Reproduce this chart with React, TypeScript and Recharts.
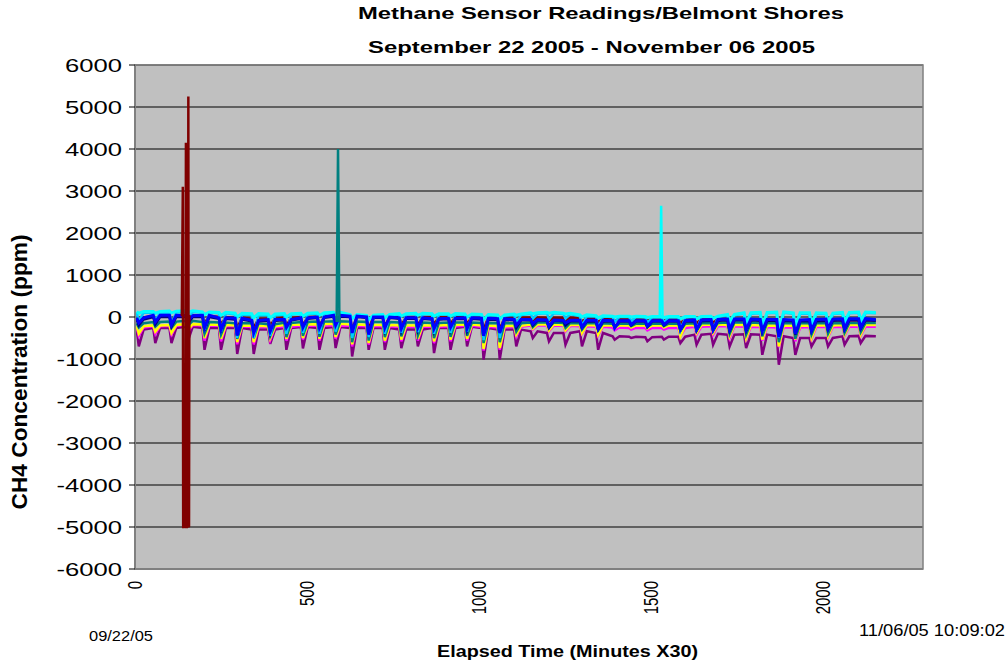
import React from "react";
import {
  LineChart,
  Line,
  XAxis,
  YAxis,
  CartesianGrid,
  ReferenceArea,
} from "recharts";

// elapsed time (x30 min) of each daily dip
const DIP_TIMES = [
  11, 59, 106, 154, 202, 250, 297, 345, 393, 440, 488, 536, 583, 631, 679,
  726, 774, 822, 869, 917, 965, 1013, 1060, 1108, 1156, 1203, 1251, 1299,
  1346, 1394, 1442, 1489, 1537, 1585, 1632, 1680, 1728, 1776, 1823, 1871,
  1919, 1966, 2014, 2062, 2109,
];
const END_TIME = 2153;

// level before each dip / bottom of each dip, ppm
const PURPLE_BASE = [
  -300, -260, -260, -230, -260, -260, -260, -300, -300, -260, -240, -260, -240, -260, -260,
  -260, -300, -300, -260, -260, -230, -260, -300, -300, -340, -380, -380, -340, -380, -460,
  -470, -480, -470, -470, -420, -400, -420, -410, -420, -460, -500, -500, -500, -460, -450,
];
const PURPLE_DIP = [
  -700, -620, -620, -560, -780, -780, -880, -880, -640, -780, -750, -780, -740, -940, -780,
  -780, -740, -700, -860, -780, -700, -1015, -1015, -700, -500, -580, -660, -700, -780, -540,
  -500, -580, -540, -620, -660, -660, -700, -740, -900, -1135, -900, -700, -700, -660, -620,
];
const BLUE_BASE = [
  -20, 40, 40, 30, 40, -20, -30, -80, -60, -60, -20, 0, 40, 20, 0,
  0, -20, -20, -40, -30, -20, -30, -40, -60, -60, -70, -80, -80, -80, -90,
  -90, -90, -90, -90, -70, -60, -50, -50, -60, -60, -70, -60, -50, -40, -40,
];
const BLUE_DIP = [
  -140, -120, -180, -80, -260, -300, -440, -380, -340, -250, -250, -260, -200, -380, -420,
  -260, -280, -260, -280, -250, -280, -450, -380, -200, -160, -220, -140, -240, -280, -260,
  -180, -220, -180, -300, -300, -300, -300, -300, -330, -480, -400, -320, -280, -280, -250,
];
const NAVY_BASE = [
  -60, 0, 0, 0, 0, -40, -60, -100, -90, -80, -40, -20, 10, 0, -20,
  -20, -40, -40, -60, -50, -40, -60, -70, -80, -80, -90, -100, -100, -110, -110,
  -110, -110, -110, -110, -100, -90, -80, -80, -90, -90, -100, -100, -90, -80, -80,
];
const NAVY_DIP = [
  -200, -180, -230, -150, -320, -360, -480, -420, -400, -320, -300, -320, -260, -450, -480,
  -330, -340, -320, -350, -320, -330, -520, -460, -260, -200, -260, -200, -260, -300, -250,
  -200, -240, -200, -320, -320, -320, -330, -330, -360, -500, -420, -340, -300, -300, -280,
];
const MAROON_BASE = [
  -10, 20, 20, 40, 20, 0, -20, -40, -40, -20, 0, 10, 20, 10, 0,
  0, 0, 0, 0, 0, 10, 0, -10, -20, -10, -20, -20, -30, -40, -50,
  -50, -50, -50, -50, -40, -30, -60, -60, -70, -70, -80, -80, -80, -80, -80,
];
const MAROON_DIP = [
  -80, -60, -80, -40, -150, -180, -260, -260, -200, -200, -200, -220, -180, -300, -280,
  -220, -200, -200, -180, -160, -180, -300, -300, -140, -80, -100, -80, -100, -120, -100,
  -80, -90, -80, -150, -150, -150, -280, -280, -320, -420, -340, -260, -240, -240, -220,
];
const TEAL_BASE = [
  -150, -120, -110, -90, -120, -130, -150, -150, -170, -140, -120, -110, -100, -110, -120,
  -120, -130, -130, -140, -130, -130, -140, -150, -150, -130, -130, -140, -150, -150, -160,
  -160, -160, -160, -160, -150, -140, -130, -130, -140, -150, -150, -150, -150, -140, -140,
];
const TEAL_DIP = [
  -250, -230, -260, -200, -400, -420, -520, -500, -450, -480, -450, -470, -420, -600, -560,
  -480, -460, -440, -500, -470, -450, -620, -600, -350, -240, -260, -260, -300, -320, -240,
  -220, -240, -220, -330, -330, -330, -400, -420, -460, -600, -520, -420, -400, -380, -360,
];
const YELLOW_BASE = [
  -220, -200, -190, -170, -180, -190, -200, -210, -220, -190, -180, -170, -160, -180, -190,
  -190, -200, -200, -200, -190, -180, -200, -220, -210, -180, -180, -190, -190, -200, -200,
  -200, -200, -200, -200, -190, -180, -190, -190, -200, -210, -210, -200, -200, -190, -190,
];
const YELLOW_DIP = [
  -400, -350, -380, -300, -500, -520, -600, -600, -500, -520, -500, -520, -480, -650, -620,
  -560, -540, -520, -580, -540, -520, -760, -740, -420, -280, -320, -320, -380, -420, -260,
  -250, -270, -250, -460, -380, -380, -460, -500, -540, -700, -540, -500, -460, -420, -420,
];
const MAGENTA_BASE = [
  -250, -220, -210, -190, -200, -210, -220, -240, -240, -230, -210, -200, -200, -210, -220,
  -220, -230, -230, -230, -220, -210, -230, -250, -230, -200, -200, -210, -220, -230, -250,
  -260, -260, -260, -260, -230, -220, -220, -230, -240, -250, -250, -240, -240, -230, -230,
];
const MAGENTA_DIP = [
  -450, -400, -420, -350, -560, -580, -650, -650, -550, -560, -540, -560, -520, -700, -660,
  -600, -580, -560, -620, -580, -560, -800, -780, -460, -300, -340, -340, -400, -440, -320,
  -300, -320, -300, -460, -420, -420, -500, -520, -560, -720, -580, -520, -480, -440, -440,
];
const CYAN_BASE = [
  130, 130, 140, 150, 120, 110, 90, 80, 70, 80, 90, 100, 110, 60, 40,
  60, 80, 90, 80, 80, 70, 60, 50, 70, 100, 110, 90, 50, 30, 20,
  20, 10, 10, 10, 10, 20, 60, 100, 110, 120, 100, 100, 90, 110, 120,
];
const CYAN_DIP = [
  90, 90, 100, 110, 60, 40, 0, -20, -20, 0, 20, 40, 60, -40, -60,
  -20, 20, 40, 20, 20, 0, -60, -40, 40, 80, 90, 70, 0, -20, 0,
  0, -10, -10, -40, -40, -30, -100, -140, -200, -320, -220, -160, -120, -100, -80,
];
const SKY_BASE = [
  100, 100, 110, 120, 100, 90, 60, 50, 40, 60, 70, 80, 90, 40, 20,
  40, 60, 70, 60, 60, 50, 40, 30, 50, 80, 90, 70, 20, 10, 0,
  0, -10, -10, -10, 0, 0, 40, 80, 90, 100, 80, 80, 70, 90, 100,
];
const SKY_DIP = [
  -100, -80, -150, -60, -300, -350, -500, -500, -450, -400, -380, -400, -350, -500, -480,
  -400, -380, -360, -400, -380, -350, -550, -500, -150, -40, -60, -40, -220, -260, -120,
  -100, -140, -120, -320, -320, -300, -280, -300, -360, -500, -400, -320, -280, -260, -240,
];

// single large excursions
const MAROON_SPIKE_T = [136, 139, 140, 143, 146, 148, 149, 152, 154, 155, 156, 157, 158];
const MAROON_SPIKE_V = [20, 3100, -5000, -5000, -4980, 4150, -5000, -5000, -4980, 5250, -5000, -4980, 50];
const TEAL_SPIKE_T = [586, 590, 594];
const TEAL_SPIKE_V = [-120, 4000, -120];
const CYAN_SPIKE_T = [1525, 1529, 1533];
const CYAN_SPIKE_V = [20, 2650, 20];

const X_TICKS = [0, 500, 1000, 1500, 2000];
const Y_TICKS = [-6000, -5000, -4000, -3000, -2000, -1000, 0, 1000, 2000, 3000, 4000, 5000, 6000];

const SERIES = [
  { key: "purple", color: "#800080", base: PURPLE_BASE, dip: PURPLE_DIP, end: -460, width: 2.5 },
  { key: "magenta", color: "#FF00FF", base: MAGENTA_BASE, dip: MAGENTA_DIP, end: -230, width: 2.5 },
  { key: "yellow", color: "#FFFF00", base: YELLOW_BASE, dip: YELLOW_DIP, end: -190, width: 2.5 },
  { key: "teal", color: "#008080", base: TEAL_BASE, dip: TEAL_DIP, end: -140, width: 2.5 },
  { key: "maroon", color: "#800000", base: MAROON_BASE, dip: MAROON_DIP, end: -80, width: 2.5 },
  { key: "navy", color: "#000080", base: NAVY_BASE, dip: NAVY_DIP, end: -90, width: 2.5 },
  { key: "sky", color: "#00CCFF", base: SKY_BASE, dip: SKY_DIP, end: 90, width: 2.5 },
  { key: "cyan", color: "#00FFFF", base: CYAN_BASE, dip: CYAN_DIP, end: 110, width: 3 },
  { key: "blue", color: "#0000FF", base: BLUE_BASE, dip: BLUE_DIP, end: -60, width: 3 },
];

function buildRows() {
  const rows: any[] = [];
  DIP_TIMES.forEach((t, i) => {
    const before: any = { t: t - 6 };
    const bottom: any = { t };
    const after: any = { t: t + 14 };
    SERIES.forEach((s) => {
      before[s.key] = s.base[i];
      bottom[s.key] = s.dip[i];
      after[s.key] = s.base[i];
    });
    rows.push(before, bottom, after);
  });
  const last: any = { t: END_TIME };
  SERIES.forEach((s) => (last[s.key] = s.end));
  rows.push(last);
  return rows;
}

const pairs = (ts: number[], vs: number[]) => ts.map((t, i) => ({ t, v: vs[i] }));

const FONT = "'Liberation Sans', Arial, sans-serif";

function YTick({ x, y, payload }: any) {
  return (
    <g transform={`translate(${x},${y}) scale(1.35,1)`}>
      <text x={0} y={0} dy={7} textAnchor="end" fontSize={19} fontFamily={FONT} fill="#000">
        {payload.value}
      </text>
    </g>
  );
}

function XTick({ x, y, payload }: any) {
  return (
    <g transform={`translate(${x},${y + 4}) scale(1.35,1) rotate(-90)`}>
      <text x={0} y={0} dy={5} textAnchor="end" fontSize={15} fontFamily={FONT} fill="#000">
        {payload.value}
      </text>
    </g>
  );
}

export default function App() {
  const rows = buildRows();
  return (
    <div style={{ position: "absolute", left: 0, top: 0, width: 1008, height: 666, background: "#fff" }}>
      <LineChart
        width={1008}
        height={666}
        data={rows}
        margin={{ top: 65, right: 85, bottom: 37, left: 75 }}
      >
        <CartesianGrid fill="#C0C0C0" stroke="#000" strokeWidth={1} vertical={false} />
        <XAxis
          dataKey="t"
          type="number"
          domain={[0, 2290]}
          ticks={X_TICKS}
          interval={0}
          tick={<XTick />}
          tickLine={false}
          axisLine={{ stroke: "#808080", strokeWidth: 2 }}
          height={60}
          allowDataOverflow
        />
        <YAxis
          type="number"
          domain={[-6000, 6000]}
          ticks={Y_TICKS}
          interval={0}
          tick={<YTick />}
          tickSize={6}
          tickMargin={7}
          tickLine={{ stroke: "#000" }}
          axisLine={{ stroke: "#808080", strokeWidth: 2 }}
          width={60}
          allowDataOverflow
        />
        <ReferenceArea
          x1={0}
          x2={2290}
          y1={-6000}
          y2={6000}
          fill="none"
          stroke="#808080"
          strokeWidth={1.5}
          ifOverflow="visible"
        />
        {SERIES.map((s) => (
          <Line
            key={s.key}
            type="linear"
            dataKey={s.key}
            stroke={s.color}
            strokeWidth={s.width}
            dot={false}
            isAnimationActive={false}
          />
        ))}
        <Line
          data={pairs(TEAL_SPIKE_T, TEAL_SPIKE_V)}
          dataKey="v"
          stroke="#008080"
          strokeWidth={2.5}
          dot={false}
          isAnimationActive={false}
        />
        <Line
          data={pairs(CYAN_SPIKE_T, CYAN_SPIKE_V)}
          dataKey="v"
          stroke="#00FFFF"
          strokeWidth={2.5}
          dot={false}
          isAnimationActive={false}
        />
        <Line
          data={pairs(MAROON_SPIKE_T, MAROON_SPIKE_V)}
          dataKey="v"
          stroke="#800000"
          strokeWidth={2.5}
          dot={false}
          isAnimationActive={false}
        />
      </LineChart>
      <svg
        width={1008}
        height={666}
        style={{ position: "absolute", left: 0, top: 0, pointerEvents: "none" }}
      >
        <g fontFamily={FONT} fontWeight="bold" fill="#000">
          <text x={358} y={19} fontSize={17} textLength={486} lengthAdjust="spacingAndGlyphs">
            Methane Sensor Readings/Belmont Shores
          </text>
          <text x={368} y={53} fontSize={17} textLength={447} lengthAdjust="spacingAndGlyphs">
            September 22 2005 - November 06 2005
          </text>
          <text x={437} y={657} fontSize={16} textLength={261} lengthAdjust="spacingAndGlyphs">
            Elapsed Time (Minutes X30)
          </text>
          <g transform="translate(27,372) scale(1.35,1) rotate(-90)">
            <text x={0} y={0} textAnchor="middle" fontSize={16} textLength={275} lengthAdjust="spacingAndGlyphs">
              CH4 Concentration (ppm)
            </text>
          </g>
        </g>
        <g fontFamily={FONT} fill="#000">
          <text x={89} y={641} fontSize={14} textLength={64} lengthAdjust="spacingAndGlyphs">
            09/22/05
          </text>
          <text x={859} y={636} fontSize={17} textLength={146} lengthAdjust="spacingAndGlyphs">
            11/06/05 10:09:02
          </text>
        </g>
      </svg>
    </div>
  );
}
